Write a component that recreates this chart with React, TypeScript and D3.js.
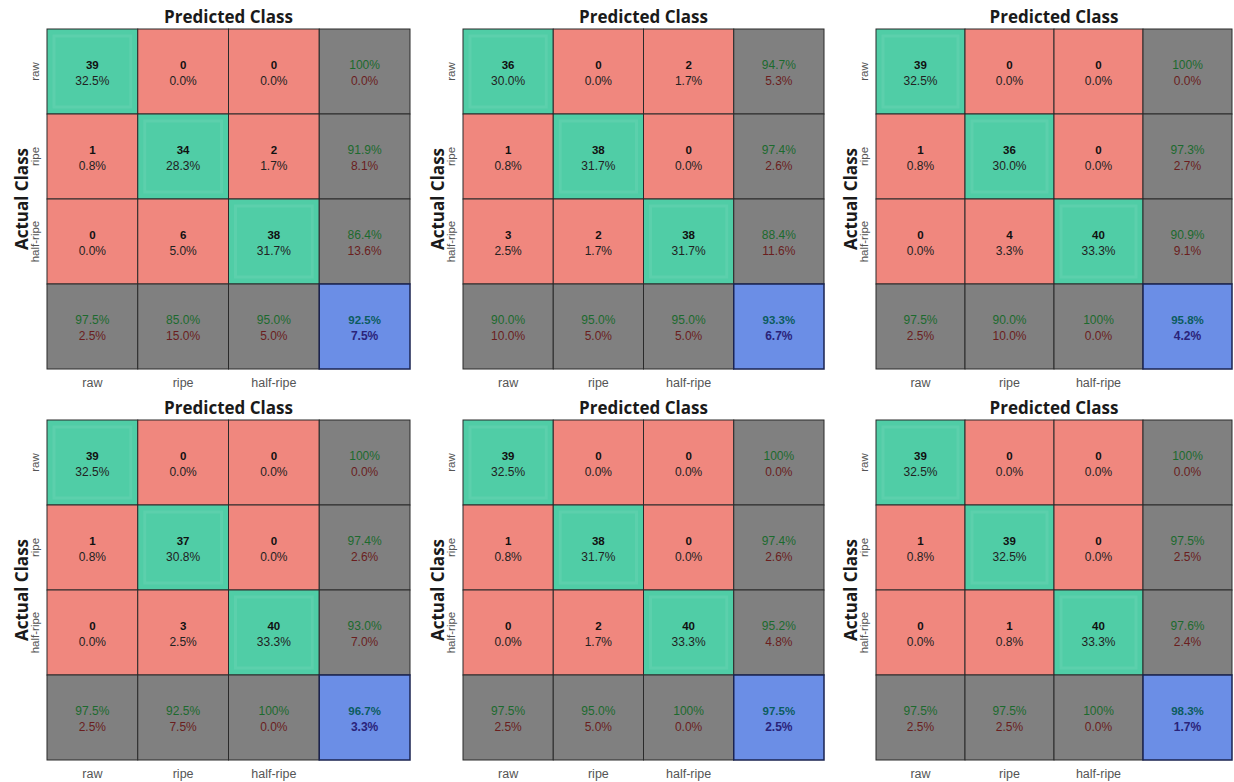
import React from "react";
import * as d3 from "d3";

const classes = ["raw", "ripe", "half-ripe"];

const counts1 = [[39, 0, 0], [1, 34, 2], [0, 6, 38]];
const counts2 = [[36, 0, 2], [1, 38, 0], [3, 2, 38]];
const counts3 = [[39, 0, 0], [1, 36, 0], [0, 4, 40]];
const counts4 = [[39, 0, 0], [1, 37, 0], [0, 3, 40]];
const counts5 = [[39, 0, 0], [1, 38, 0], [0, 2, 40]];
const counts6 = [[39, 0, 0], [1, 39, 0], [0, 1, 40]];

const matrices = [counts1, counts2, counts3, counts4, counts5, counts6];

const panelX = [47, 463, 876];
const panelW = [363, 361, 356];
const panelY = [29, 420];
const H = 340;

const C_GREEN = "#50cda6";
const C_RED = "#f0877e";
const C_GRAY = "#808080";
const C_BLUE = "#6b8ee6";

const fmt = (v: number) => (Math.abs(v - 100) < 1e-9 ? "100%" : v.toFixed(1) + "%");

function Panel({ m, x0, y0, W }: { m: number[][]; x0: number; y0: number; W: number }) {
  const n = classes.length;
  const idx = d3.range(n + 1);
  const xs = d3.scaleBand<number>().domain(idx).range([x0, x0 + W]);
  const ys = d3.scaleBand<number>().domain(idx).range([y0, y0 + H]);
  const total = d3.sum(m.flat());
  const bw = xs.bandwidth();
  const bh = ys.bandwidth();
  const cells: any[] = [];
  const txt = (cx: number, cy: number, a: string, b: string, ca: string, cb: string, boldA: boolean, boldB: boolean) => (
    <g>
      <text x={cx} y={cy - 7} textAnchor="middle" dominantBaseline="central" fontSize={boldA ? 11.5 : 12} fontWeight={boldA ? "bold" : "normal"} fill={ca} fontFamily="'Liberation Sans', Arial, sans-serif">{a}</text>
      <text x={cx} y={cy + 9} textAnchor="middle" dominantBaseline="central" fontSize={12} fontWeight={boldB ? "bold" : "normal"} fill={cb} fontFamily="'Liberation Sans', Arial, sans-serif">{b}</text>
    </g>
  );
  for (let r = 0; r < n; r++) {
    for (let c = 0; c < n; c++) {
      const v = m[r][c];
      const diag = r === c;
      const x = xs(c)!, y = ys(r)!;
      cells.push(
        <g key={`c${r}${c}`}>
          <rect x={x} y={y} width={bw} height={bh} fill={diag ? C_GREEN : C_RED} stroke="#2a2a2a" strokeWidth={1} />
          {diag && <rect x={x + 7} y={y + 7} width={bw - 14} height={bh - 14} fill="none" stroke="rgba(255,255,255,0.07)" strokeWidth={3} />}
          {txt(x + bw / 2, y + bh / 2, String(v), fmt((v / total) * 100), "#111", "#222", true, false)}
        </g>
      );
    }
    const rs = d3.sum(m[r]);
    const rp = (m[r][r] / rs) * 100;
    const x = xs(n)!, y = ys(r)!;
    cells.push(
      <g key={`r${r}`}>
        <rect x={x} y={y} width={bw} height={bh} fill={C_GRAY} stroke="#2a2a2a" strokeWidth={1} />
        {txt(x + bw / 2, y + bh / 2, fmt(rp), fmt(100 - rp), "#1c6a2e", "#6a1e1e", false, false)}
      </g>
    );
  }
  for (let c = 0; c < n; c++) {
    const cs = d3.sum(m.map((row) => row[c]));
    const cp = (m[c][c] / cs) * 100;
    const x = xs(c)!, y = ys(n)!;
    cells.push(
      <g key={`s${c}`}>
        <rect x={x} y={y} width={bw} height={bh} fill={C_GRAY} stroke="#2a2a2a" strokeWidth={1} />
        {txt(x + bw / 2, y + bh / 2, fmt(cp), fmt(100 - cp), "#1c6a2e", "#6a1e1e", false, false)}
      </g>
    );
  }
  const acc = (d3.sum(d3.range(n).map((i) => m[i][i])) / total) * 100;
  const xb = xs(n)!, yb = ys(n)!;
  cells.push(
    <g key="acc">
      <rect x={xb} y={yb} width={bw} height={bh} fill={C_BLUE} stroke="#1a2350" strokeWidth={1.5} />
      {txt(xb + bw / 2, yb + bh / 2, fmt(acc), fmt(100 - acc), "#0b5c5e", "#2a237a", true, true)}
    </g>
  );
  const cx = x0 + W / 2;
  const cy = y0 + H / 2;
  return (
    <g>
      {cells}
      <text x={cx} y={y0 - 6} textAnchor="middle" fontSize={17} fontWeight="bold" fill="#1a1a1a" fontFamily="'Open Sans', sans-serif">Predicted Class</text>
      <text transform={`translate(${x0 - 26},${cy}) rotate(-90)`} textAnchor="middle" dominantBaseline="central" fontSize={17} fontWeight="bold" fill="#1a1a1a" fontFamily="'Open Sans', sans-serif">Actual Class</text>
      {classes.map((k, i) => (
        <text key={`xt${i}`} x={xs(i)! + bw / 2} y={y0 + H + 14} textAnchor="middle" dominantBaseline="central" fontSize={12.5} fill="#555" fontFamily="'Liberation Sans', Arial, sans-serif">{k}</text>
      ))}
      {classes.map((k, i) => (
        <text key={`yt${i}`} transform={`translate(${x0 - 12},${ys(i)! + bh / 2}) rotate(-90)`} textAnchor="middle" dominantBaseline="central" fontSize={11.5} fill="#555" fontFamily="'Liberation Sans', Arial, sans-serif">{k}</text>
      ))}
    </g>
  );
}

export default function App() {
  return (
    <div style={{ position: "absolute", left: 0, top: 0 }}>
      <svg width={1234} height={782} style={{ display: "block", background: "#fff" }}>
        {matrices.map((m, i) => (
          <Panel key={i} m={m} x0={panelX[i % 3]} y0={panelY[Math.floor(i / 3)]} W={panelW[i % 3]} />
        ))}
      </svg>
    </div>
  );
}
